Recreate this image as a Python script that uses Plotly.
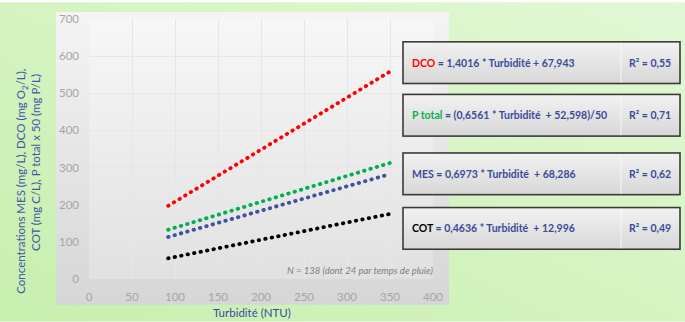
import base64
import plotly.graph_objects as go

# Figure and plot-area geometry (pixels)
W, H = 685, 322
M_L, M_R, M_T, M_B = 89, 252, 17, 43
PW = W - M_L - M_R
PH = H - M_T - M_B

# Regression trend lines: y = slope * turbidity + intercept
series_names = ["DCO", "MES", "P total", "COT"]
slopes = [1.4016, 0.6973, 0.6561, 0.4636]
intercepts = [67.943, 68.286, 52.598, 12.996]
line_colors = ["#ff0000", "#00b050", "#3f51a0", "#000000"]
turbidity_span = [92, 350]

# Equation boxes, top to bottom
box_names = ["DCO", "P total", "MES", "COT"]
box_name_colors = ["#ff0000", "#00b050", "#3b4a9a", "#000000"]
box_equations = [
    " = 1,4016 * Turbidité + 67,943",
    " = (0,6561 * Turbidité\u00a0 + 52,598)/50",
    " = 0,6973 * Turbidité\u00a0 + 68,286",
    " = 0,4636 * Turbidité\u00a0 + 12,996",
]
box_r2 = ["0,55", "0,71", "0,62", "0,49"]

x_ticks = [0, 50, 100, 150, 200, 250, 300, 350, 400]
y_ticks = [0, 100, 200, 300, 400, 500, 600, 700]

NAVY = "#3b4a9a"
FONT = "Lato"


def px_x(x):
    return (x - M_L) / PW


def px_y(y):
    return (H - M_B - y) / PH


def svg_uri(svg):
    return "data:image/svg+xml;base64," + base64.b64encode(svg.encode("utf-8")).decode()


# Backdrop: green page, grey chart panel, lighter plot area
backdrop = f"""<svg xmlns="http://www.w3.org/2000/svg" width="{W}" height="{H}" viewBox="0 0 {W} {H}">
<defs>
<linearGradient id="pg" x1="0" y1="1" x2="1" y2="0">
<stop offset="0" stop-color="#c7efad"/><stop offset="1" stop-color="#e1f8d5"/></linearGradient>
<linearGradient id="cg" x1="0" y1="0" x2="0" y2="1">
<stop offset="0" stop-color="#f4f4f4"/><stop offset="1" stop-color="#d6d6d6"/></linearGradient>
<linearGradient id="ag" x1="0" y1="0" x2="0" y2="1">
<stop offset="0" stop-color="#f7f7f7"/><stop offset="1" stop-color="#e1e1e1"/></linearGradient>
</defs>
<rect x="0" y="0" width="{W}" height="{H}" fill="url(#pg)"/>
<rect x="56" y="10" width="393" height="295" fill="url(#cg)"/>
<rect x="{M_L}" y="{M_T}" width="{PW}" height="{PH}" fill="url(#ag)"/>
</svg>"""

# Equation boxes with a divider before the R² cell
box_tops = [40, 93, 152, 207]
box_h = 42
box_x0, box_x1, box_div = 403, 680, 621
rects = []
for top in box_tops:
    rects.append(
        f'<rect x="{box_x0}" y="{top}" width="{box_x1 - box_x0}" height="{box_h}" '
        f'fill="url(#bg)" stroke="#3a3a3a" stroke-width="1.6"/>'
        f'<line x1="{box_div}" y1="{top + 1}" x2="{box_div}" y2="{top + box_h - 1}" '
        f'stroke="#f7f7f7" stroke-width="1"/>'
    )
boxes = f"""<svg xmlns="http://www.w3.org/2000/svg" width="{W}" height="{H}" viewBox="0 0 {W} {H}">
<defs><linearGradient id="bg" x1="0" y1="0" x2="0" y2="1">
<stop offset="0" stop-color="#f2f2f2"/><stop offset="1" stop-color="#d7d7d7"/></linearGradient></defs>
{''.join(rects)}
</svg>"""

fig = go.Figure()

for name, a, b, color in zip(series_names, slopes, intercepts, line_colors):
    fig.add_trace(go.Scatter(
        x=turbidity_span,
        y=[a * t + b for t in turbidity_span],
        mode="lines",
        name=name,
        line=dict(color=color, width=3.8, dash="0.5px,6.1px"),
        hoverinfo="skip",
        showlegend=False,
    ))

full_image = dict(xref="paper", yref="paper", x=px_x(0), y=px_y(0),
                  sizex=W / PW, sizey=H / PH, xanchor="left", yanchor="top",
                  sizing="stretch")

annotations = []
for top, name, ncolor, eq, r2 in zip(box_tops, box_names, box_name_colors, box_equations, box_r2):
    cy = top + box_h / 2
    annotations.append(dict(
        xref="paper", yref="paper", x=px_x(410), y=px_y(cy),
        xanchor="left", yanchor="middle", showarrow=False,
        text=f"<b><span style='color:{ncolor}'>{name}</span>{eq}</b>",
        font=dict(family=FONT, size=10.5, color=NAVY),
    ))
    annotations.append(dict(
        xref="paper", yref="paper", x=px_x(650), y=px_y(cy),
        xanchor="center", yanchor="middle", showarrow=False,
        text=f"<b>R² = {r2}</b>",
        font=dict(family=FONT, size=10.5, color=NAVY),
    ))

annotations.append(dict(
    xref="paper", yref="paper", x=px_x(435), y=px_y(270),
    xanchor="right", yanchor="middle", showarrow=False,
    text="<i>N = 138 (dont 24 par temps de pluie)</i>",
    font=dict(family=FONT, size=9.5, color="#7f7f7f"),
))
annotations.append(dict(
    xref="paper", yref="paper", x=px_x(252), y=px_y(313),
    xanchor="center", yanchor="middle", showarrow=False,
    text="Turbidité (NTU)",
    font=dict(family=FONT, size=11.5, color=NAVY),
))
annotations.append(dict(
    xref="paper", yref="paper", x=px_x(22), y=px_y(181),
    xanchor="center", yanchor="middle", showarrow=False, textangle=-90,
    text="Concentrations MES (mg/L), DCO (mg O<sub>2</sub>/L),",
    font=dict(family=FONT, size=11.5, color="#4456a6"),
))
annotations.append(dict(
    xref="paper", yref="paper", x=px_x(36), y=px_y(162),
    xanchor="center", yanchor="middle", showarrow=False, textangle=-90,
    text="COT (mg C/L), P total x 50 (mg P/L)",
    font=dict(family=FONT, size=11.5, color="#4456a6"),
))

fig.update_layout(
    width=W, height=H,
    margin=dict(l=M_L, r=M_R, t=M_T, b=M_B, pad=0),
    paper_bgcolor="rgba(0,0,0,0)",
    plot_bgcolor="rgba(0,0,0,0)",
    font=dict(family=FONT),
    images=[dict(source=svg_uri(backdrop), layer="below", **full_image),
            dict(source=svg_uri(boxes), layer="above", **full_image)],
    annotations=annotations,
    xaxis=dict(range=[0, 400], tickvals=x_ticks, showgrid=True, gridcolor="#e6e6e6",
               gridwidth=1, zeroline=False, showline=False, ticks="",
               tickfont=dict(family=FONT, size=11.5, color="#a5a5a5"),
               ticklabelstandoff=9, fixedrange=True),
    yaxis=dict(range=[0, 700], tickvals=y_ticks, showgrid=True, gridcolor="#e6e6e6",
               gridwidth=1, zeroline=False, showline=False, ticks="",
               tickfont=dict(family=FONT, size=11.5, color="#a5a5a5"),
               ticklabelstandoff=9, fixedrange=True),
)

round_caps = (
    "var s=document.createElement('style');"
    "s.textContent='.scatterlayer .js-line{stroke-linecap:round;}';"
    "document.head.appendChild(s);"
)

fig.write_html("out.html", include_plotlyjs=True, full_html=True,
               config={"displayModeBar": False, "staticPlot": True},
               post_script=round_caps)
